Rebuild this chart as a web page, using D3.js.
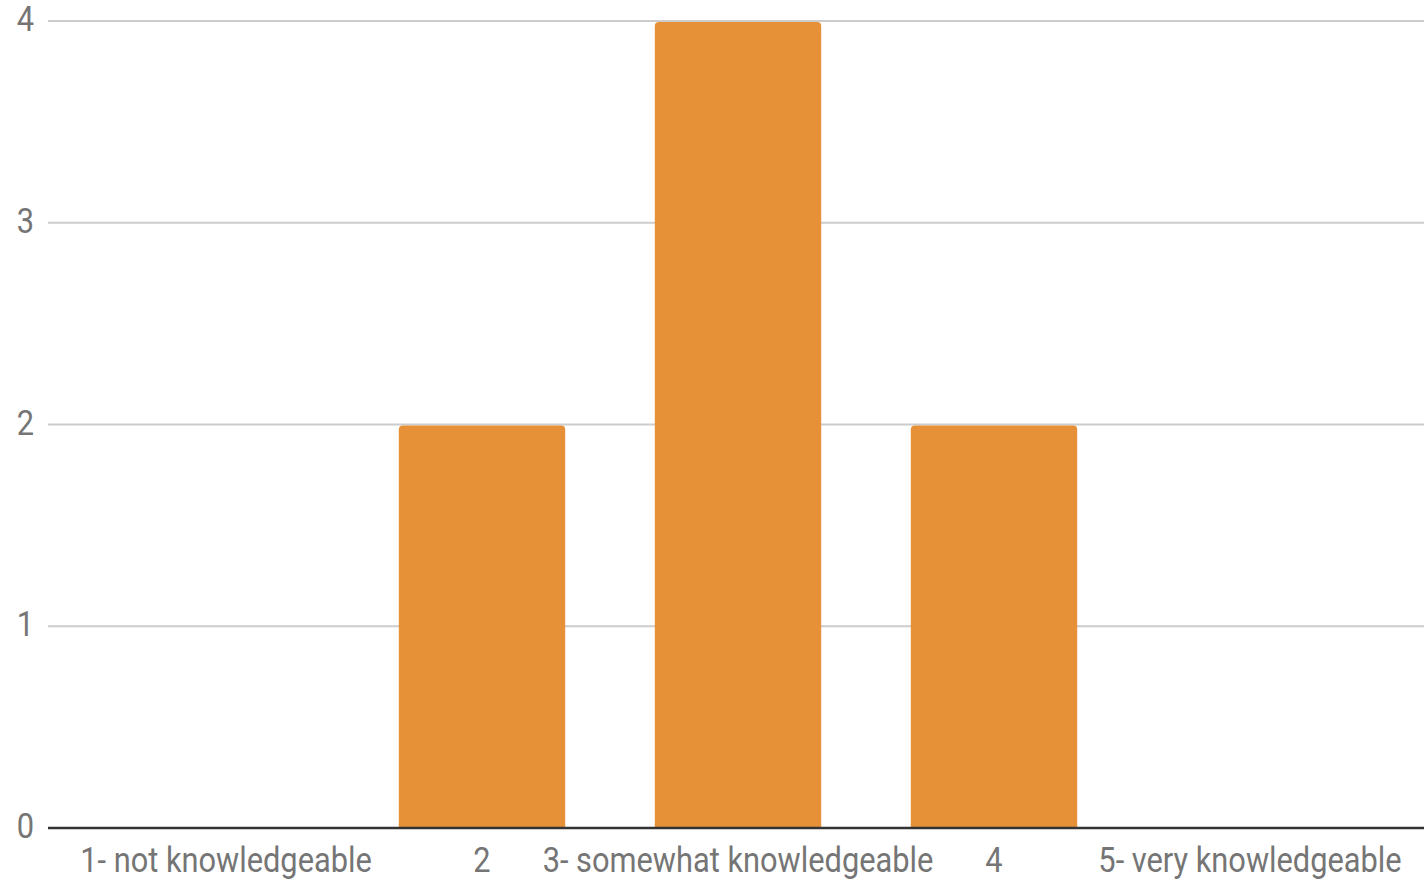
<!DOCTYPE html>
<html>
<head>
<meta charset="utf-8">
<script src="https://cdn.jsdelivr.net/npm/d3@7"></script>
<style>
  body { margin: 0; background: #fff; }
  svg text { font-family: Roboto, "Noto Sans", sans-serif; fill: #757575; }
</style>
</head>
<body>
<svg id="chart" width="1427" height="883"></svg>
<script>
// chart values
var categories = ["1- not knowledgeable", "2", "3- somewhat knowledgeable", "4", "5- very knowledgeable"];
var counts = [0, 2, 4, 2, 0];
var yTicks = [0, 1, 2, 3, 4];

var barColor = "#e69138";
var fontSize = 35;
var squeeze = 0.88;   // text in the original looks narrower than plain Roboto
var svg = d3.select("#chart");

var xScale = d3.scaleBand()
               .domain(categories)
               .range([98, 1378])
               .paddingInner(0.35)
               .paddingOuter(0.175);

var yScale = d3.scaleLinear()
               .domain([0, 4])
               .range([828, 21]);

// gridlines
svg.append("g")
   .selectAll("line")
   .data(yTicks.filter(function(d){ return d > 0; }))
   .enter()
   .append("line")
   .attr("x1", 48)
   .attr("x2", 1424)
   .attr("y1", function(d){ return yScale(d); })
   .attr("y2", function(d){ return yScale(d); })
   .attr("stroke", "#cccccc")
   .attr("stroke-width", 2);

// y labels
svg.append("g")
   .selectAll("text")
   .data(yTicks)
   .enter()
   .append("text")
   .attr("transform", function(d){
       return "translate(34," + (yScale(d) + 10) + ") scale(" + squeeze + ",1)";
   })
   .attr("text-anchor", "end")
   .style("font-size", fontSize + "px")
   .text(function(d){ return d; });

// bars, rounded top corners
var bars = svg.append("g");
counts.forEach(function(d, i){
  if (d <= 0) return;
  var x0 = xScale(categories[i]);
  var w = xScale.bandwidth();
  var y0 = yScale(d) + 1;
  var y1 = yScale(0);
  var r = 4;
  var p = d3.path();
  p.moveTo(x0, y1);
  p.lineTo(x0, y0 + r);
  p.quadraticCurveTo(x0, y0, x0 + r, y0);
  p.lineTo(x0 + w - r, y0);
  p.quadraticCurveTo(x0 + w, y0, x0 + w, y0 + r);
  p.lineTo(x0 + w, y1);
  p.closePath();
  bars.append("path").attr("d", p.toString()).attr("fill", barColor);
});

// baseline
svg.append("line")
   .attr("x1", 48)
   .attr("x2", 1424)
   .attr("y1", yScale(0))
   .attr("y2", yScale(0))
   .attr("stroke", "#333333")
   .attr("stroke-width", 2.5);

// x labels
svg.append("g")
   .selectAll("text")
   .data(categories)
   .enter()
   .append("text")
   .attr("transform", function(d){
       var cx = xScale(d) + xScale.bandwidth() / 2;
       return "translate(" + cx + ",872) scale(" + squeeze + ",1)";
   })
   .attr("text-anchor", "middle")
   .style("font-size", fontSize + "px")
   .text(function(d){ return d; });
</script>
</body>
</html>
